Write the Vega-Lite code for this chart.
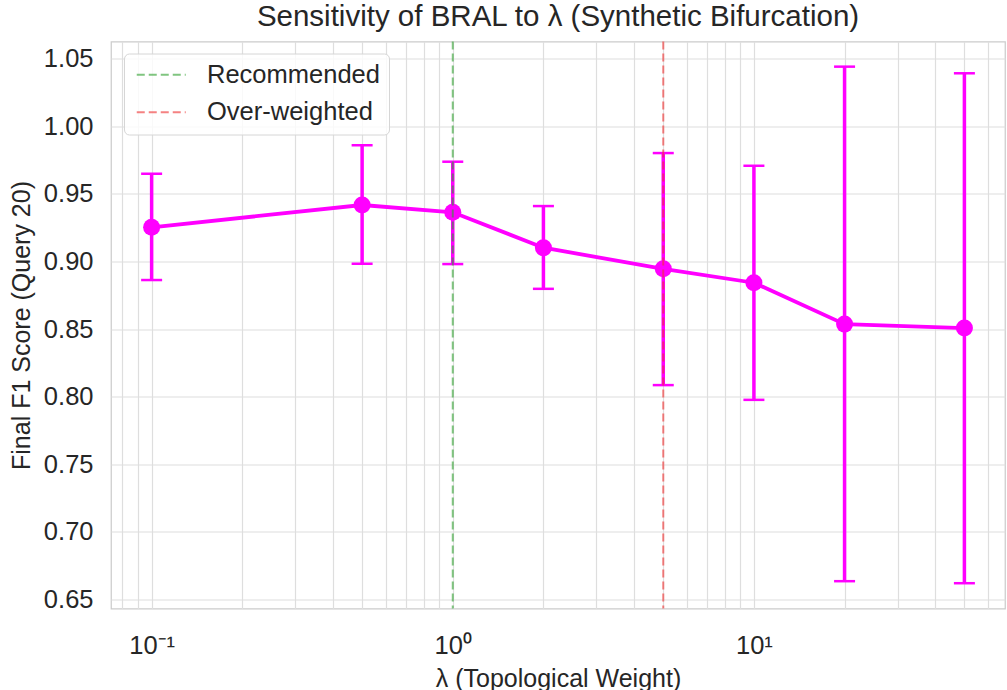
{
  "$schema": "https://vega.github.io/schema/vega-lite/v6.json",
  "width": 894,
  "height": 567,
  "autosize": {"type": "none"},
  "padding": {"left": 111, "top": 41.5, "right": 2, "bottom": 81.5},
  "background": "white",
  "title": {
    "text": "Sensitivity of BRAL to λ (Synthetic Bifurcation)",
    "fontSize": 29.5,
    "fontWeight": "normal",
    "font": "Liberation Sans",
    "color": "#262626",
    "anchor": "middle",
    "offset": 8
  },
  "config": {
    "font": "Liberation Sans",
    "view": {"stroke": "#cccccc", "strokeWidth": 1.25},
    "axis": {
      "labelFont": "Liberation Sans",
      "titleFont": "Liberation Sans",
      "labelColor": "#262626",
      "titleColor": "#262626",
      "labelFontSize": 25.5,
      "titleFontSize": 25,
      "titleFontWeight": "normal",
      "gridColor": "#dedede",
      "gridWidth": 1.2,
      "domain": false,
      "ticks": false
    },
    "legend": {
      "orient": "none",
      "legendX": 13,
      "legendY": 12,
      "padding": 8.5,
      "labelFontSize": 25.5,
      "labelFont": "Liberation Sans",
      "labelColor": "#262626",
      "labelLimit": 400,
      "symbolType": "M-2.45,0H2.45",
      "symbolSize": 400,
      "symbolOffset": 16,
      "symbolStrokeWidth": 2,
      "symbolDash": [8, 4],
      "symbolOpacity": 0.6,
      "labelOffset": 33,
      "rowPadding": 10.5,
      "fillColor": "rgba(255,255,255,0.8)",
      "strokeColor": "#d6d6d6",
      "cornerRadius": 5,
      "title": null
    }
  },
  "datasets": {
    "runs": [
      {"lambda": 0.1, "f1": 0.9253, "lo": 0.8863, "hi": 0.9649},
      {"lambda": 0.5, "f1": 0.9418, "lo": 0.8983, "hi": 0.9859},
      {"lambda": 1, "f1": 0.9364, "lo": 0.8981, "hi": 0.9738},
      {"lambda": 2, "f1": 0.9102, "lo": 0.8798, "hi": 0.941},
      {"lambda": 5, "f1": 0.8946, "lo": 0.8086, "hi": 0.9802},
      {"lambda": 10, "f1": 0.8843, "lo": 0.7977, "hi": 0.9708},
      {"lambda": 20, "f1": 0.8537, "lo": 0.6636, "hi": 1.0441},
      {"lambda": 50, "f1": 0.8508, "lo": 0.6621, "hi": 1.0392}
    ],
    "refs": [
      {"lambda": 1, "label": "Recommended"},
      {"lambda": 5, "label": "Over-weighted"}
    ]
  },
  "layer": [
    {
      "data": {"name": "runs"},
      "mark": {"type": "rule", "color": "#ff00ff", "strokeWidth": 3.5},
      "encoding": {
        "x": {
          "field": "lambda",
          "type": "quantitative",
          "scale": {"type": "log", "domain": [0.0733, 68.2], "nice": false, "zero": false},
          "axis": {
            "title": "λ (Topological Weight)",
            "values": [0.08, 0.09, 0.1, 0.2, 0.3, 0.4, 0.5, 0.6, 0.7, 0.8, 0.9, 1, 2, 3, 4, 5, 6, 7, 8, 9, 10, 20, 30, 40, 50, 60],
            "labelExpr": "datum.value == 0.1 ? '10⁻¹' : datum.value == 1 ? '10⁰' : datum.value == 10 ? '10¹' : ''",
            "labelPadding": 25,
            "titlePadding": 7,
            "labelOverlap": false,
            "labelFlush": false
          }
        },
        "y": {
          "field": "lo",
          "type": "quantitative",
          "scale": {"domain": [0.6434, 1.0627], "nice": false, "zero": false},
          "axis": {
            "title": "Final F1 Score (Query 20)",
            "values": [0.65, 0.7, 0.75, 0.8, 0.85, 0.9, 0.95, 1.0, 1.05],
            "format": ".2f",
            "labelPadding": 18,
            "titlePadding": 9
          }
        },
        "y2": {"field": "hi"}
      }
    },
    {
      "data": {"name": "runs"},
      "mark": {"type": "tick", "color": "#ff00ff", "orient": "horizontal", "size": 21, "thickness": 2.5, "opacity": 1},
      "encoding": {
        "x": {"field": "lambda", "type": "quantitative"},
        "y": {"field": "lo", "type": "quantitative"}
      }
    },
    {
      "data": {"name": "runs"},
      "mark": {"type": "tick", "color": "#ff00ff", "orient": "horizontal", "size": 21, "thickness": 2.5, "opacity": 1},
      "encoding": {
        "x": {"field": "lambda", "type": "quantitative"},
        "y": {"field": "hi", "type": "quantitative"}
      }
    },
    {
      "data": {"name": "runs"},
      "mark": {"type": "line", "color": "#ff00ff", "strokeWidth": 3.8},
      "encoding": {
        "x": {"field": "lambda", "type": "quantitative"},
        "y": {"field": "f1", "type": "quantitative"}
      }
    },
    {
      "data": {"name": "runs"},
      "mark": {"type": "point", "filled": true, "color": "#ff00ff", "size": 290, "opacity": 1},
      "encoding": {
        "x": {"field": "lambda", "type": "quantitative"},
        "y": {"field": "f1", "type": "quantitative"}
      }
    },
    {
      "data": {"name": "refs"},
      "mark": {"type": "rule", "strokeWidth": 2, "strokeDash": [8, 4], "opacity": 0.6},
      "encoding": {
        "x": {"field": "lambda", "type": "quantitative"},
        "color": {
          "field": "label",
          "type": "nominal",
          "scale": {"domain": ["Recommended", "Over-weighted"], "range": ["#2ca02c", "#f03030"]},
          "legend": {}
        }
      }
    }
  ]
}
